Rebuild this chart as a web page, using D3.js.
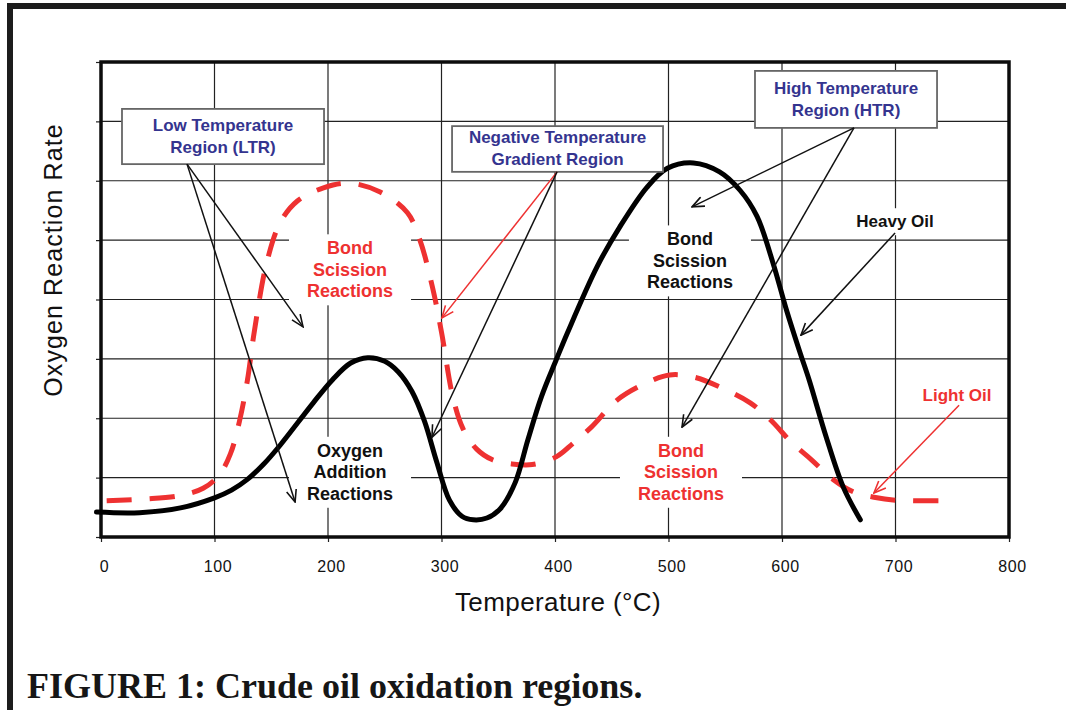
<!DOCTYPE html>
<html><head><meta charset="utf-8">
<script src="https://cdn.jsdelivr.net/npm/d3@7"></script>
<style>body{margin:0;background:#fff}svg{display:block}</style>
</head><body>
<svg id="c" width="1066" height="710"></svg>
<script>
// ---- data ----
const xTicks = [0, 100, 200, 300, 400, 500, 600, 700, 800];
const yTicks = [0, 1, 2, 3, 4, 5, 6, 7, 8];

// Heavy oil (solid black)
const heavyTemp = [-4, 34, 70, 100, 115, 129, 143, 158, 187, 204, 220, 235, 250, 262, 274, 285, 296, 307, 318, 328, 340, 352, 365, 376, 388, 401, 411, 437, 457, 481, 499, 522, 545, 563, 578, 592, 604, 616, 624, 639, 654, 669];
const heavyRate = [0.42, 0.41, 0.49, 0.66, 0.79, 0.97, 1.22, 1.55, 2.26, 2.65, 2.93, 3.02, 2.96, 2.78, 2.45, 1.95, 1.25, 0.62, 0.35, 0.29, 0.32, 0.48, 0.92, 1.63, 2.36, 2.98, 3.44, 4.55, 5.22, 5.89, 6.21, 6.30, 6.15, 5.84, 5.40, 4.62, 3.82, 3.10, 2.64, 1.68, 0.84, 0.29];

// Light oil (dashed red)
const lightTemp = [5, 40, 70, 90, 104, 114, 122, 129, 135, 146, 158, 173, 196, 219, 246, 270, 281, 292, 300, 310, 319, 331, 345, 362, 380, 401, 416, 432, 455, 480, 501, 523, 547, 572, 590, 608, 626, 645, 663, 681, 700, 745];
const lightRate = [0.61, 0.64, 0.70, 0.82, 1.04, 1.40, 1.95, 2.64, 3.45, 4.62, 5.30, 5.66, 5.88, 5.96, 5.81, 5.46, 5.00, 4.21, 3.45, 2.36, 1.82, 1.48, 1.30, 1.23, 1.22, 1.35, 1.58, 1.85, 2.31, 2.59, 2.73, 2.69, 2.51, 2.26, 1.97, 1.60, 1.30, 0.97, 0.76, 0.67, 0.62, 0.61];

const xTitle = "Temperature (°C)";
const yTitle = "Oxygen Reaction Rate";
const caption = "FIGURE 1: Crude oil oxidation regions.";

// ---- drawing ----
const RED = "#ee3131", BLUE = "#34348f", INK = "#111";
const FONT = "Liberation Sans, Arial, sans-serif";
const svg = d3.select("#c");
const defs = svg.append("defs");

// layers in paint order
const L_bg = svg.append("g");
const L_grid = svg.append("g");
const L_labelBg = svg.append("g");
const L_axes = svg.append("g");
const L_frame = svg.append("g");
const L_curves = svg.append("g");
const L_boxes = svg.append("g");
const L_arrows = svg.append("g");
const L_text = svg.append("g");

L_bg.append("rect").attr("width", 1066).attr("height", 710).attr("fill", "#fff");
// outer page frame (left + top rule)
L_bg.append("path").attr("d", "M10,710 L10,6 L1066,6").attr("fill", "none")
  .attr("stroke", "#1c1c1c").attr("stroke-width", 6);

const x = d3.scaleLinear().domain([0, 800]).range([101, 1009]);
const y = d3.scaleLinear().domain([0, 8]).range([537, 62]);

L_grid.selectAll("line.v").data(xTicks.slice(1, -1)).join("line").attr("class", "v")
  .attr("x1", d => x(d)).attr("x2", d => x(d)).attr("y1", y(0)).attr("y2", y(8))
  .attr("stroke", "#222").attr("stroke-width", 1.2);
L_grid.selectAll("line.h").data(yTicks.slice(1, -1)).join("line").attr("class", "h")
  .attr("y1", d => y(d)).attr("y2", d => y(d)).attr("x1", x(0)).attr("x2", x(800))
  .attr("stroke", "#222").attr("stroke-width", 1.2);

// axes (ticks only)
const xa = L_axes.append("g").attr("transform", `translate(0,${y(0)})`)
  .call(d3.axisBottom(x).tickValues(xTicks).tickSize(5).tickPadding(19).tickFormat(d => d));
xa.select(".domain").remove();
xa.selectAll("line").attr("stroke", "#222").attr("stroke-width", 1.2);
xa.selectAll("text").attr("font-family", FONT)
  .attr("font-size", 16).attr("fill", INK).attr("dx", 3).attr("letter-spacing", 0.6);

const ya = L_axes.append("g").attr("transform", `translate(${x(0)},0)`)
  .call(d3.axisLeft(y).tickValues(yTicks).tickSize(5).tickFormat(""));
ya.select(".domain").remove();
ya.selectAll("line").attr("stroke", "#222").attr("stroke-width", 1.2);

// plot frame
L_frame.append("rect").attr("x", x(0)).attr("y", y(8)).attr("width", x(800) - x(0)).attr("height", y(0) - y(8))
  .attr("fill", "none").attr("stroke", "#0c0c0c").attr("stroke-width", 3.5);

// curves
const line = d3.line().x(d => x(d[0])).y(d => y(d[1])).curve(d3.curveCatmullRom.alpha(0.5));
L_curves.append("path").datum(lightTemp.map((t, i) => [t, lightRate[i]]))
  .attr("d", line).attr("fill", "none").attr("stroke", RED).attr("stroke-width", 5)
  .attr("stroke-dasharray", "25,18");
L_curves.append("path").datum(heavyTemp.map((t, i) => [t, heavyRate[i]]))
  .attr("d", line).attr("fill", "none").attr("stroke", "#000").attr("stroke-width", 5)
  .attr("stroke-linejoin", "round").attr("stroke-linecap", "round");

// in-plot labels
const labels = [
  { lines: ["Bond", "Scission", "Reactions"], t: 219.4, r: 4.50, color: RED, size: 18 },
  { lines: ["Bond", "Scission", "Reactions"], t: 518.9, r: 4.65, color: INK, size: 18 },
  { lines: ["Oxygen", "Addition", "Reactions"], t: 219.4, r: 1.09, color: INK, size: 18 },
  { lines: ["Bond", "Scission", "Reactions"], t: 511, r: 1.09, color: RED, size: 18 },
  { lines: ["Heavy Oil"], t: 699.6, r: 5.31, color: INK, size: 17 },
  { lines: ["Light Oil"], t: 754.2, r: 2.39, color: RED, size: 17 }
];
labels.forEach(Lb => {
  const lh = 21.5;
  const cy = y(Lb.r), cx = x(Lb.t);
  const g = L_text.append("g");
  Lb.lines.forEach((s, i) => {
    g.append("text").attr("x", cx).attr("y", cy + (i - (Lb.lines.length - 1) / 2) * lh)
      .attr("text-anchor", "middle").attr("dominant-baseline", "central")
      .attr("font-family", FONT).attr("font-weight", "bold").attr("font-size", Lb.size)
      .attr("fill", Lb.color).text(s);
  });
  const b = g.node().getBBox();
  L_labelBg.append("rect").attr("x", b.x - 18).attr("y", b.y - 4)
    .attr("width", b.width + 36).attr("height", b.height + 8).attr("fill", "#fff");
});

// region boxes
const boxes = [
  { lines: ["Low Temperature", "Region (LTR)"], t0: 18.5, t1: 196.5, r0: 7.21, r1: 6.28 },
  { lines: ["Negative Temperature", "Gradient Region"], t0: 309.3, t1: 495.2, r0: 6.92, r1: 6.15 },
  { lines: ["High Temperature", "Region (HTR)"], t0: 576.2, t1: 736.6, r0: 7.85, r1: 6.89 }
];
boxes.forEach(B => {
  const X0 = x(B.t0), X1 = x(B.t1), Y0 = y(B.r0), Y1 = y(B.r1);
  L_boxes.append("rect").attr("x", X0).attr("y", Y0).attr("width", X1 - X0).attr("height", Y1 - Y0)
    .attr("fill", "#fff").attr("stroke", "#666").attr("stroke-width", 1.8);
  const cx = (X0 + X1) / 2, cy = (Y0 + Y1) / 2;
  B.lines.forEach((s, i) => {
    L_boxes.append("text").attr("x", cx).attr("y", cy + (i - 0.5) * 22)
      .attr("text-anchor", "middle").attr("dominant-baseline", "central")
      .attr("font-family", FONT).attr("font-weight", "bold").attr("font-size", 17)
      .attr("fill", BLUE).text(s);
  });
});

// arrows
[["ahK", "#111"], ["ahR", RED]].forEach(([id, c]) => {
  defs.append("marker").attr("id", id).attr("viewBox", "0 0 14 12").attr("refX", 13).attr("refY", 6)
    .attr("markerWidth", 14).attr("markerHeight", 12).attr("markerUnits", "userSpaceOnUse")
    .attr("orient", "auto")
    .append("path").attr("d", "M1,1 L13,6 L1,11").attr("fill", "none").attr("stroke", c).attr("stroke-width", 1.6);
});
const arrows = [
  { from: [75.8, 6.28], to: [178, 3.54], red: false },
  { from: [75.8, 6.28], to: [171, 0.59], red: false },
  { from: [401.8, 6.15], to: [300.4, 3.69], red: true },
  { from: [401.8, 6.15], to: [291.6, 1.68], red: false },
  { from: [663.4, 6.89], to: [520.7, 5.56], red: false },
  { from: [663.4, 6.89], to: [511.9, 1.85], red: false },
  { from: [699.6, 5.12], to: [616.7, 3.40], red: false },
  { from: [756, 2.22], to: [681, 0.74], red: true }
];
L_arrows.selectAll("line").data(arrows).join("line")
  .attr("x1", d => x(d.from[0])).attr("y1", d => y(d.from[1]))
  .attr("x2", d => x(d.to[0])).attr("y2", d => y(d.to[1]))
  .attr("stroke", d => d.red ? RED : "#111").attr("stroke-width", 1.5)
  .attr("marker-end", d => d.red ? "url(#ahR)" : "url(#ahK)");

// titles
svg.append("text").attr("x", x(400) + 3).attr("y", 611).attr("text-anchor", "middle")
  .attr("font-family", FONT).attr("font-size", 26).attr("letter-spacing", 0.4).attr("fill", INK).text(xTitle);
svg.append("text").attr("transform", "translate(62,260) rotate(-90)").attr("text-anchor", "middle")
  .attr("font-family", FONT).attr("font-size", 25).attr("letter-spacing", 1.1).attr("fill", INK).text(yTitle);

svg.append("text").attr("x", 27).attr("y", 698)
  .attr("font-family", "Liberation Serif, Times New Roman, serif").attr("font-weight", "bold")
  .attr("font-size", 36).attr("fill", "#161616").text(caption);
</script>
</body></html>
